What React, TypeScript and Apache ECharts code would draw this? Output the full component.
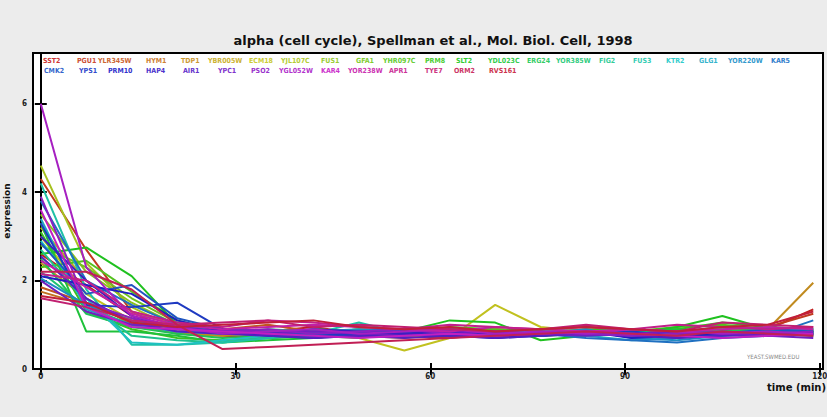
import React, { useEffect, useRef } from "react";
import * as echarts from "echarts";

// time points (min)
const TIME = [0, 7, 14, 21, 28, 35, 42, 49, 56, 63, 70, 77, 84, 91, 98, 105, 112, 119];
const X_TICKS = [0, 30, 60, 90, 120];
const Y_TICKS = [0, 2, 4, 6];

const GENES_ROW1 = ["SST2", "PGU1", "YLR345W", "HYM1", "TDP1", "YBR005W", "ECM18", "YJL107C", "FUS1", "GFA1", "YHR097C", "PRM8", "SLT2", "YDL023C", "ERG24", "YOR385W", "FIG2", "FUS3", "KTR2", "GLG1", "YOR220W", "KAR5"];
const GENES_ROW2 = ["CMK2", "YPS1", "PRM10", "HAP4", "AIR1", "YPC1", "PSO2", "YGL052W", "KAR4", "YOR238W", "APR1", "TYE7", "ORM2", "RVS161"];

const SST2 = [2.6, 1.9, 1.2, 0.95, 0.9, 0.85, 0.95, 0.8, 0.75, 0.8, 0.85, 0.9, 0.85, 0.8, 0.75, 0.85, 0.9, 1.35];
const PGU1 = [4.3, 2.7, 1.3, 0.8, 0.75, 0.7, 0.8, 0.85, 0.75, 0.7, 0.8, 0.75, 0.8, 0.85, 0.9, 0.8, 0.95, 1.25];
const YLR345W = [1.85, 1.5, 1.05, 0.95, 0.9, 1.0, 0.85, 0.8, 0.9, 0.85, 0.8, 0.9, 0.95, 0.85, 0.8, 0.9, 0.85, 0.8];
const HYM1 = [1.75, 1.45, 1.15, 0.9, 0.85, 0.8, 0.9, 0.75, 0.8, 0.85, 0.9, 0.8, 0.75, 0.8, 0.85, 0.9, 0.85, 0.75];
const TDP1 = [2.4, 1.6, 1.0, 0.8, 0.75, 0.85, 0.8, 0.9, 0.85, 0.8, 0.9, 0.85, 0.8, 0.75, 0.85, 0.8, 0.9, 1.95];
const YBR005W = [3.2, 2.0, 1.3, 1.0, 0.9, 0.8, 0.85, 0.75, 0.7, 0.8, 0.9, 0.85, 0.8, 0.75, 0.8, 0.85, 0.8, 0.9];
const ECM18 = [3.0, 1.7, 1.1, 0.85, 0.8, 0.75, 0.8, 0.7, 0.42, 0.7, 1.45, 0.95, 0.85, 0.8, 0.75, 0.8, 0.85, 0.8];
const YJL107C = [4.6, 2.4, 1.4, 0.9, 0.85, 0.8, 0.9, 0.85, 0.8, 0.85, 0.8, 0.9, 0.85, 0.8, 0.9, 0.85, 0.8, 0.85];
const FUS1 = [3.5, 2.2, 1.5, 1.0, 0.9, 0.85, 0.8, 0.9, 0.85, 0.9, 0.85, 0.8, 0.9, 0.85, 0.8, 0.9, 0.85, 0.8];
const GFA1 = [2.8, 2.3, 1.6, 1.05, 0.8, 0.75, 0.7, 0.8, 0.85, 0.9, 0.8, 0.75, 0.85, 0.8, 0.85, 0.9, 0.8, 0.75];
const YHR097C = [2.3, 2.45, 1.75, 1.1, 0.85, 0.7, 0.75, 0.85, 0.8, 0.95, 0.9, 0.85, 0.8, 0.85, 0.95, 1.0, 0.9, 0.85];
const PRM8 = [3.1, 1.3, 0.9, 0.7, 0.65, 0.7, 0.75, 0.7, 0.8, 0.9, 0.85, 0.8, 0.9, 0.85, 0.9, 1.05, 0.95, 0.9];
const SLT2 = [2.6, 2.75, 2.1, 1.0, 0.85, 0.8, 0.75, 0.8, 0.85, 1.1, 1.05, 0.65, 0.75, 0.8, 0.95, 1.2, 0.9, 0.85];
const YDL023C = [3.3, 0.85, 0.85, 0.75, 0.6, 0.65, 0.7, 0.8, 0.75, 0.8, 0.85, 0.9, 0.8, 0.85, 0.9, 0.85, 0.9, 0.8];
const ERG24 = [2.5, 1.25, 0.95, 0.8, 0.7, 0.75, 0.9, 0.85, 0.8, 0.85, 0.8, 0.75, 0.85, 0.9, 0.8, 0.85, 0.9, 0.85];
const YOR385W = [2.2, 1.4, 1.0, 0.85, 0.8, 0.9, 0.85, 0.8, 0.9, 0.85, 0.8, 0.75, 0.8, 0.85, 0.8, 0.75, 0.8, 0.85];
const FIG2 = [2.7, 1.5, 0.75, 0.65, 0.6, 0.7, 0.75, 0.8, 0.75, 0.85, 0.8, 0.85, 0.8, 0.75, 0.85, 0.8, 0.85, 0.8];
const FUS3 = [4.2, 1.8, 0.55, 0.55, 0.6, 0.7, 0.8, 1.05, 0.8, 0.75, 0.8, 0.85, 0.8, 0.9, 0.85, 0.95, 0.9, 0.9];
const KTR2 = [2.9, 1.6, 0.6, 0.55, 0.65, 0.75, 0.8, 0.85, 0.9, 0.85, 0.8, 0.9, 0.85, 0.8, 0.75, 0.8, 0.85, 0.8];
const GLG1 = [3.4, 1.35, 1.0, 0.85, 0.8, 0.85, 0.8, 0.75, 0.85, 0.8, 0.85, 0.8, 0.75, 0.65, 0.7, 0.75, 0.8, 0.85];
const YOR220W = [2.05, 1.45, 1.1, 0.95, 0.9, 0.8, 0.85, 0.9, 0.85, 0.9, 0.85, 0.8, 0.9, 0.7, 0.65, 0.75, 0.85, 0.9];
const KAR5 = [3.8, 2.0, 1.45, 1.0, 0.85, 0.8, 0.75, 0.8, 0.85, 0.8, 0.75, 0.8, 0.7, 0.65, 0.6, 0.7, 0.75, 1.1];
const CMK2 = [2.85, 1.7, 1.9, 1.15, 0.9, 0.85, 0.8, 0.85, 0.9, 0.85, 0.8, 0.75, 0.85, 0.8, 0.7, 0.8, 0.9, 0.85];
const YPS1 = [3.3, 1.45, 1.4, 1.5, 0.9, 0.8, 0.75, 0.8, 0.85, 0.8, 0.7, 0.75, 0.8, 0.85, 0.75, 0.8, 0.85, 0.8];
const PRM10 = [2.1, 1.9, 1.7, 1.1, 0.85, 0.75, 0.7, 0.75, 0.8, 0.75, 0.7, 0.8, 0.85, 0.7, 0.75, 0.8, 0.75, 0.85];
const HAP4 = [3.0, 2.0, 1.2, 0.9, 0.85, 0.8, 0.9, 0.85, 0.8, 0.85, 0.8, 0.75, 0.85, 0.8, 0.85, 0.8, 0.75, 0.8];
const AIR1 = [2.55, 1.6, 1.05, 0.85, 0.8, 0.75, 0.7, 0.75, 0.7, 0.75, 0.7, 0.75, 0.8, 0.75, 0.7, 0.75, 0.8, 0.75];
const YPC1 = [2.0, 1.3, 1.0, 0.95, 0.85, 0.8, 0.85, 0.8, 0.75, 0.8, 0.85, 0.8, 0.75, 0.8, 0.85, 0.8, 0.75, 0.7];
const PSO2 = [3.9, 1.5, 1.15, 0.9, 0.85, 0.9, 0.8, 0.85, 0.9, 0.8, 0.75, 0.85, 0.8, 0.75, 0.8, 0.85, 0.8, 0.85];
const YGL052W = [6.0, 2.3, 1.2, 0.95, 0.8, 0.85, 0.9, 0.8, 0.85, 0.9, 0.8, 0.85, 0.8, 0.9, 0.85, 0.8, 0.85, 0.8];
const KAR4 = [3.6, 1.4, 0.95, 0.9, 0.85, 0.8, 0.75, 0.7, 0.75, 0.8, 0.75, 0.8, 0.85, 0.8, 0.75, 0.7, 0.75, 0.8];
const YOR238W = [2.45, 1.85, 1.25, 1.0, 0.9, 0.95, 1.0, 0.95, 0.9, 0.85, 0.95, 0.9, 0.85, 0.9, 0.85, 0.9, 0.95, 0.9];
const APR1 = [2.15, 2.0, 1.3, 1.05, 0.95, 1.1, 1.05, 0.95, 0.9, 1.0, 0.95, 0.9, 0.95, 0.9, 1.0, 0.95, 0.9, 0.95];
const TYE7 = [1.6, 1.4, 1.1, 1.0, 1.05, 1.1, 0.95, 1.0, 0.95, 0.9, 0.85, 0.9, 1.0, 0.9, 0.85, 1.05, 1.0, 0.95];
const ORM2 = [2.2, 2.2, 1.8, 1.0, 0.45, 0.5, 0.55, 0.6, 0.65, 0.7, 0.75, 0.8, 0.85, 0.8, 0.75, 0.85, 0.8, 0.75];
const RVS161 = [1.65, 1.5, 1.05, 0.95, 1.0, 1.05, 1.1, 0.95, 0.9, 0.95, 0.85, 0.9, 0.95, 0.9, 0.85, 0.95, 1.0, 1.3];

const SERIES_VALUES = [
  SST2, PGU1, YLR345W, HYM1, TDP1, YBR005W, ECM18, YJL107C, FUS1, GFA1, YHR097C, PRM8, SLT2, YDL023C,
  ERG24, YOR385W, FIG2, FUS3, KTR2, GLG1, YOR220W, KAR5, CMK2, YPS1, PRM10, HAP4, AIR1, YPC1, PSO2,
  YGL052W, KAR4, YOR238W, APR1, TYE7, ORM2, RVS161,
];

// layout (legend text left edges, px)
const ROW1_X = [42, 76, 97, 145, 180, 207, 248, 280, 320, 355, 382, 424, 455, 487, 526, 555, 598, 632, 665, 698, 727, 770];
const ROW2_X = [43, 78, 107, 145, 182, 217, 250, 278, 320, 347, 388, 424, 453, 488];

function hslToHex(h: number, s: number, l: number) {
  s /= 100; l /= 100;
  const k = (n: number) => (n + h / 30) % 12;
  const a = s * Math.min(l, 1 - l);
  const f = (n: number) => l - a * Math.max(-1, Math.min(k(n) - 3, Math.min(9 - k(n), 1)));
  const hx = (v: number) => Math.round(v * 255).toString(16).padStart(2, "0");
  return "#" + hx(f(0)) + hx(f(8)) + hx(f(4));
}

export default function App() {
  const ref = useRef<HTMLDivElement>(null);
  useEffect(() => {
    document.body.style.margin = "0";
    const chart = echarts.init(ref.current!, null, { renderer: "svg" });
    const genes = [...GENES_ROW1, ...GENES_ROW2];
    const colors = genes.map((_, i) => hslToHex(i * 10, 72, 44));
    const legendColors = genes.map((_, i) => hslToHex(i * 10, 60, 50));
    const font = '"DejaVu Sans", sans-serif';
    const legendFont = '"DejaVu Sans Condensed", "DejaVu Sans", sans-serif';

    const legends: any[] = [];
    GENES_ROW1.forEach((g, i) => {
      legends.push({
        data: [{ name: g, textStyle: { color: legendColors[i] } }],
        left: ROW1_X[i] - 5, top: 57, padding: 0, itemWidth: 0, itemHeight: 0, itemGap: 0,
        selectedMode: false,
        textStyle: { fontSize: 7, fontWeight: "bold", fontFamily: legendFont },
      });
    });
    GENES_ROW2.forEach((g, i) => {
      const idx = GENES_ROW1.length + i;
      legends.push({
        data: [{ name: g, textStyle: { color: legendColors[idx] } }],
        left: ROW2_X[i] - 5, top: 67, padding: 0, itemWidth: 0, itemHeight: 0, itemGap: 0,
        selectedMode: false,
        textStyle: { fontSize: 7, fontWeight: "bold", fontFamily: legendFont },
      });
    });

    const axisLine = { show: true, lineStyle: { color: "#000", width: 2 } };
    const tick = { show: true, inside: true, length: 6, lineStyle: { color: "#000", width: 2 } };
    const labelStyle = { fontSize: 8, fontWeight: "bold", color: "#222", fontFamily: legendFont };

    chart.setOption({
      animation: false,
      backgroundColor: "#ececec",
      title: {
        text: "alpha (cell cycle), Spellman et al., Mol. Biol. Cell, 1998",
        left: 428, top: 29, textAlign: "center",
        textStyle: { fontSize: 13, fontWeight: "bold", color: "#111", fontFamily: font },
      },
      legend: legends,
      grid: {
        left: 33, right: 4, top: 53, bottom: 48,
        containLabel: false, outerBoundsMode: "none",
        show: true, backgroundColor: "#fff", borderColor: "#000", borderWidth: 2,
      },
      xAxis: [
        {
          type: "value", min: -1.2, max: 120.5, position: "bottom",
          axisLine, axisTick: { ...tick, customValues: X_TICKS },
          axisLabel: { ...labelStyle, customValues: X_TICKS, margin: 3 },
          splitLine: { show: false },
        },
        {
          type: "value", min: -1.2, max: 120.5, position: "top",
          axisLine, axisTick: { ...tick, customValues: X_TICKS },
          axisLabel: { show: false }, splitLine: { show: false },
        },
      ],
      yAxis: [
        {
          type: "value", min: 0, max: 7.15, position: "left",
          axisLine, axisTick: { ...tick, customValues: Y_TICKS },
          axisLabel: { ...labelStyle, customValues: Y_TICKS, margin: 6 },
          splitLine: { show: false },
          name: "expression", nameLocation: "middle", nameGap: 22, nameRotate: 90,
          nameTextStyle: { fontSize: 9, fontWeight: "bold", color: "#111", fontFamily: font },
        },
        {
          type: "value", min: 0, max: 7.15, position: "right",
          axisLine, axisTick: { ...tick, customValues: Y_TICKS },
          axisLabel: { show: false }, splitLine: { show: false },
        },
      ],
      graphic: [
        {
          type: "text", left: 767, top: 382,
          style: { text: "time (min)", font: "bold 10px " + font, fill: "#111" },
        },
        {
          type: "text", left: 747, top: 353,
          style: { text: "YEAST.SWMED.EDU", font: "6px " + legendFont, fill: "#888" },
        },
      ],
      series: SERIES_VALUES.map((vals, i) => ({
        name: genes[i],
        type: "line",
        xAxisIndex: 0,
        yAxisIndex: 0,
        symbol: "none",
        lineStyle: { width: 2, color: colors[i] },
        itemStyle: { color: colors[i] },
        data: TIME.map((t, j) => [t, vals[j]]),
      })),
    });
    return () => chart.dispose();
  }, []);
  return <div ref={ref} style={{ width: 827, height: 417 }} />;
}
